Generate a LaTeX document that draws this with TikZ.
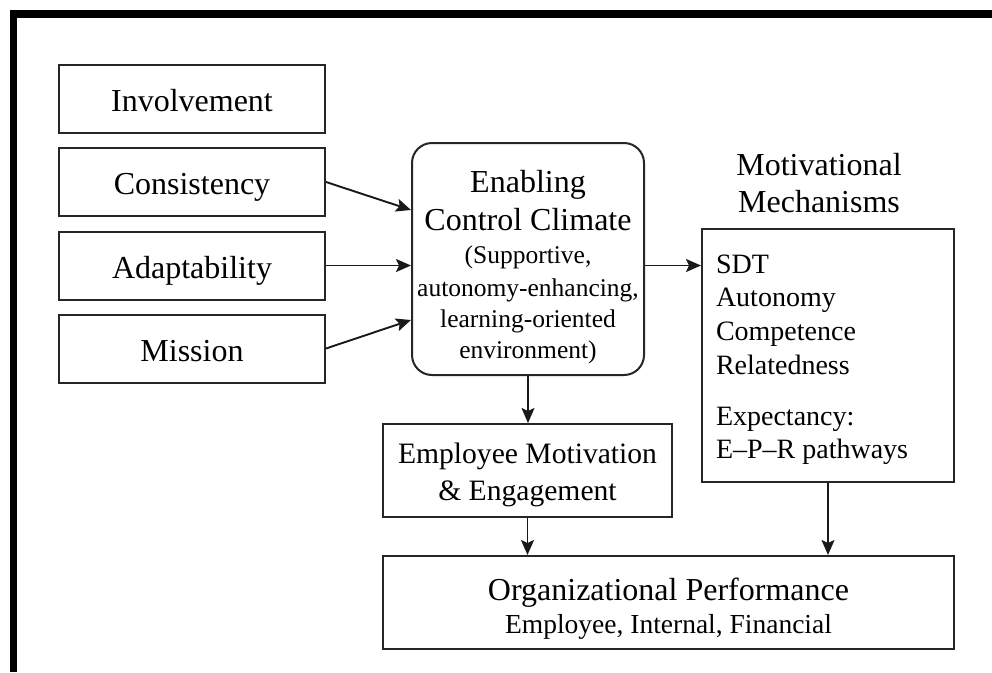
\documentclass[tikz,border=0pt]{standalone}
\usepackage{fontspec}
\setmainfont{Liberation Serif}
\usetikzlibrary{arrows.meta}
% lower a box's contents without changing its reported height and depth
\newcommand\shiftdown[2]{\raisebox{-#1}[\height][\depth]{#2}}
\newcommand\setfs[2]{\fontsize{#1}{#2}\selectfont}
\begin{document}
\begin{tikzpicture}[x=1pt,y=-1pt,
  box/.style={draw=black!85, line width=2pt, rectangle, inner sep=0pt},
  rbox/.style={box, rounded corners=20pt},
  sidebox/.style={box, minimum width=266pt, minimum height=68pt,
    text height=25pt, text depth=0pt, font=\setfs{32}{38}},
  arr/.style={draw=black!90, line width=1.9pt,
    -{Stealth[length=15pt,width=13pt,inset=3pt]}}]
\useasboundingbox (0,0) rectangle (992,672);

% heavy frame along the top and left edges
\fill (10,10) rectangle (992,18);
\fill (10,10) rectangle (17,672);

% culture dimensions
\node[sidebox] (inv) at (192,98.5)  {Involvement};
\node[sidebox] (con) at (192,182)   {Consistency};
\node[sidebox] (ada) at (192,265.5) {Adaptability};
\node[sidebox] (mis) at (192,348.5) {Mission};

% enabling control climate
\node[rbox, minimum width=232pt, minimum height=232pt, font=\setfs{25.5}{31.5}]
  (ecc) at (528,259) {\shiftdown{9.7pt}{\begin{tabular}{@{}c@{}}
  {\setfs{32}{38}Enabling}\\[6.5pt]
  {\setfs{32}{38}Control Climate}\\[1.5pt]
  (Supportive,\\[1.5pt]
  autonomy-enhancing,\\[-0.5pt]
  learning-oriented\\[-0.5pt]
  environment)\end{tabular}}};

% motivational mechanisms
\node[inner sep=0pt, font=\setfs{32}{37}] (mmt) at (819,186.1)
  {\begin{tabular}{@{}c@{}}Motivational\\Mechanisms\end{tabular}};
\node[box, minimum width=252pt, minimum height=253pt, font=\setfs{28}{33.5}]
  (mm) at (828,355.5) {\shiftdown{3.35pt}{\makebox[224pt][l]{\begin{tabular}{@{}l@{}}
  SDT\\[0.2pt]
  Autonomy\\[0.2pt]
  Competence\\[0.2pt]
  Relatedness\\[17.5pt]
  Expectancy:\\[-0.5pt]
  E--P--R pathways\end{tabular}}}};

% outcomes
\node[box, minimum width=289pt, minimum height=93pt, font=\setfs{29.6}{37}]
  (emp) at (527.5,470.5) {\shiftdown{3.6pt}{\begin{tabular}{@{}c@{}}
  Employee Motivation\\ \& Engagement\end{tabular}}};
\node[box, minimum width=571pt, minimum height=93pt, font=\setfs{27.5}{33}]
  (org) at (668.5,602.5) {\shiftdown{7.4pt}{\begin{tabular}{@{}c@{}}
  {\setfs{32}{38}Organizational Performance}\\
  Employee, Internal, Financial\end{tabular}}};

% connectors
\draw[arr] (con.east) -- ([yshift=49pt]ecc.west);
\draw[arr] (ada.east) -- (ada.east -| ecc.west);
\draw[arr] (mis.east) -- ([yshift=-61pt]ecc.west);
\draw[arr] (ecc.east |- ada.east) -- (mm.west |- ada.east);
\draw[arr] (ecc.south) -- (emp.north -| ecc.south);
\draw[arr] (emp.south) -- (org.north -| emp.south);
\draw[arr] (mm.south) -- (org.north -| mm.south);
\end{tikzpicture}
\end{document}
